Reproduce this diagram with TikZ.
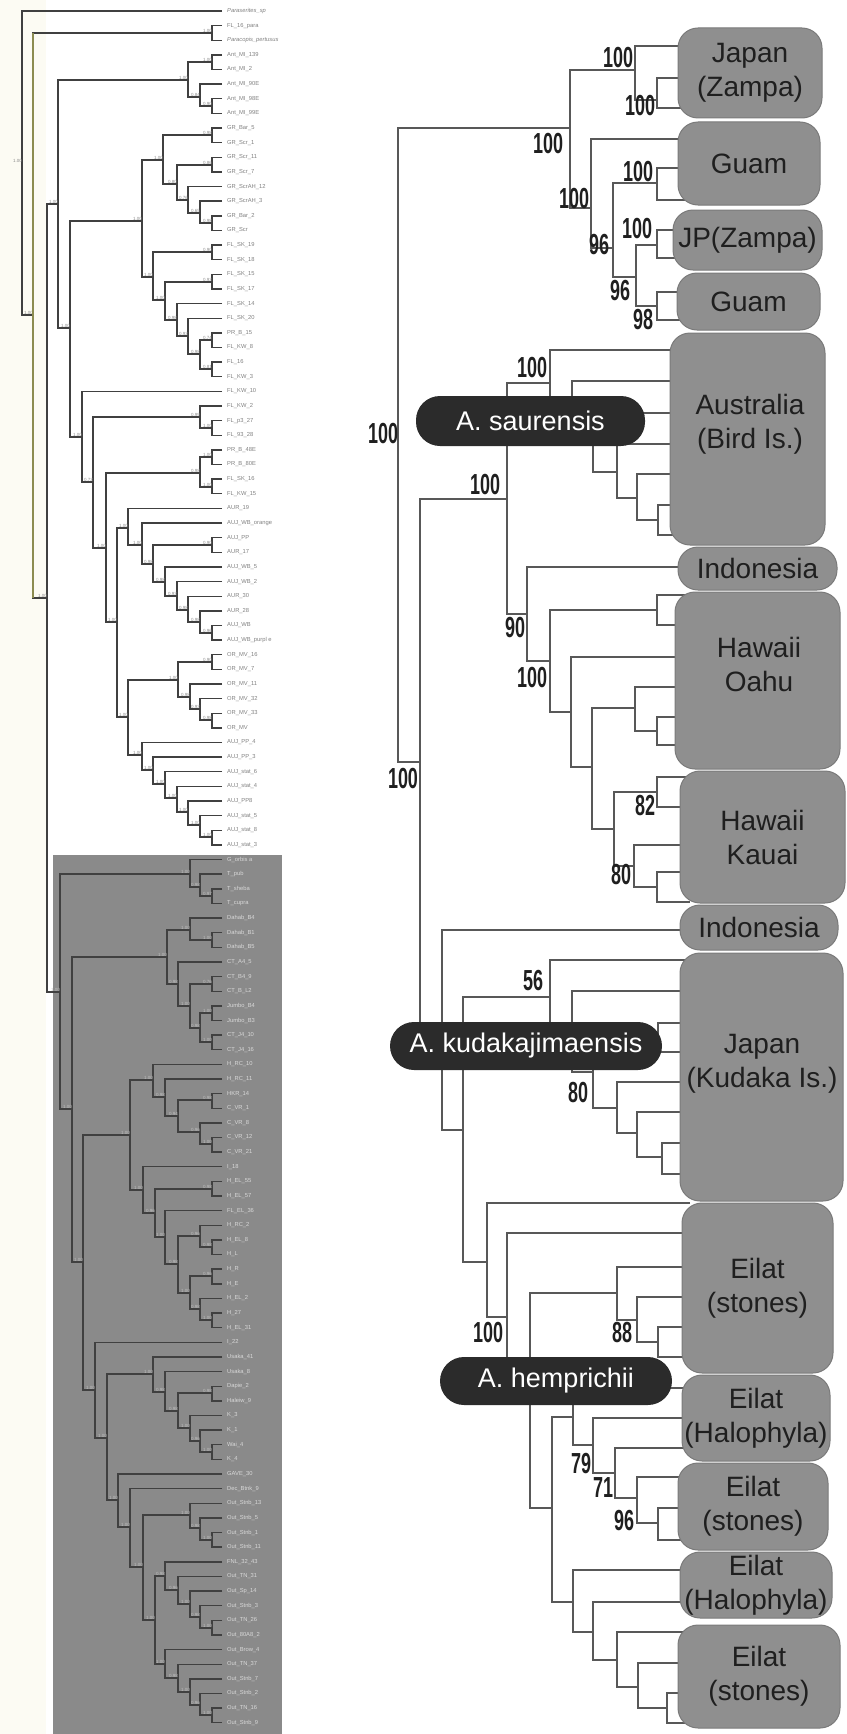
\documentclass[tikz,border=0pt]{standalone}
\usepackage{fontspec}
\setmainfont{Liberation Sans}
\usepackage{graphicx}
\usetikzlibrary{positioning}

\definecolor{regiongray}{RGB}{143,143,143}
\definecolor{regionedge}{RGB}{122,122,122}
\definecolor{taxondark}{RGB}{43,43,43}
\definecolor{branchgray}{RGB}{88,88,88}
\definecolor{cladeshade}{RGB}{138,138,138}
\definecolor{olivebar}{RGB}{140,140,80}
\definecolor{creamstrip}{RGB}{252,251,243}

\newcommand{\bsnum}[1]{\scalebox{0.62}[1]{#1}}

% small tree (left): node/x/y/child/child/support
\newcommand{\lefttop}{r0/22/163/L0/a1/1.00, a1/33/315/b1/a2/1.00, b1/212/33/L1/L2/1.00,
  a2/47/598/a3/s0/1.00, a3/58/204/c1/a4/1.00, c1/188/80/c2/c3/1.00, c2/212/62/L3/L4/1.00,
  c3/200/97/L5/c4/0.84, c4/212/106/L6/L7/0.90, a4/70/328/g0/a5/1.00, g0/142/221/g1/f1/1.00,
  g1/163/160/g2/g3/1.00, g2/212/135/L8/L9/0.98, g3/177/184/g4/g5/0.80, g4/212/165/L10/L11/0.86,
  g5/188/200/L12/g6/0.76, g6/200/213/L13/g7/0.65, g7/212/223/L14/L15/0.98, f1/153/277/f2/f3/1.00,
  f2/212/252/L16/L17/0.90, f3/165/300/f4/f5/1.00, f4/212/282/L18/L19/0.93, f5/177/320/L20/f6/0.98,
  f6/188/336/L21/f7/0.93, f7/200/354/f8/f9/0.98, f8/212/340/L22/L23/0.74, f9/212/369/L24/L25/0.81,
  a5/82/437/L26/a6/1.00, a6/93/482/k1/a7/0.73, k1/200/417/L27/k2/0.99, k2/212/428/L28/L29/1.00,
  a7/106/548/k3/a8/1.00, k3/200/473/k4/k5/0.98, k4/212/457/L30/L31/1.00, k5/212/487/L32/L33/1.00,
  a8/117/622/u1/a9/1.00, u1/128/528/L34/u2/1.00, u2/142/545/L35/u3/1.00, u3/153/564/u4/u5/0.98,
  u4/212/545/L36/L37/0.90, u5/165/582/L38/u6/0.98, u6/177/596/L39/u7/0.93, u7/188/610/L40/u8/0.98,
  u8/200/622/L41/u9/0.98, u9/212/633/L42/L43/0.96, a9/128/717/o1/v1/1.00, o1/178/680/o2/o3/1.00,
  o2/212/662/L44/L45/0.90, o3/190/697/L46/o4/0.98, o4/200/709/L47/o5/0.93, o5/212/720/L48/L49/0.98,
  v1/142/755/L50/v2/1.00, v2/153/770/L51/v3/1.00, v3/165/784/L52/v4/1.00, v4/177/798/L53/v5/1.00,
  v5/188/812/L54/v6/1.00, v6/200/825/L55/v7/1.00, v7/212/837/L56/L57/1.00}
\newcommand{\leftshade}{s0/60/992/s1/s2/1.00, s1/190/874/L58/s3/1.00, s3/200/887/L59/s4/0.98,
  s4/212/896/L60/L61/0.97, s2/72/1109/t1/w0/1.00, t1/167/957/t2/t3/1.00, t2/190/930/L62/t4/1.00,
  t4/212/940/L63/L64/1.00, t3/178/984/L65/t5/0.98, t5/190/1006/t6/t7/1.00, t6/212/984/L66/L67/0.76,
  t7/200/1028/t8/t9/0.98, t8/212/1013/L68/L69/1.00, t9/212/1042/L70/L71/1.00, w0/83/1262/x1/y1/1.00,
  x1/130/1135/x2/x3/1.00, x2/153/1080/L72/x4/1.00, x4/165/1097/L73/x5/0.98, x5/178/1116/x6/x7/0.94,
  x6/212/1100/L74/L75/0.98, x7/200/1132/L76/x8/0.96, x8/212/1144/L77/L78/1.00, x3/143/1190/L79/x9/1.00,
  x9/155/1213/x10/x11/0.96, x10/212/1189/L80/L81/0.98, x11/165/1237/L82/x12/1.00, x12/178/1264/x13/x14/0.98,
  x13/200/1236/L83/x15/0.96, x15/212/1247/L84/L85/0.98, x14/190/1293/x16/x17/1.00, x16/212/1276/L86/L87/0.96,
  x17/200/1309/L88/x18/0.98, x18/212/1320/L89/L90/1.00, y1/95/1390/L91/y2/1.00, y2/107/1438/y3/y4/1.00,
  y3/153/1374/L92/y5/1.00, y5/165/1392/L93/y6/0.98, y6/178/1411/y7/y8/0.98, y7/212/1393/L94/L95/0.98,
  y8/190/1428/L96/y9/1.00, y9/200/1441/L97/y10/0.96, y10/212/1452/L98/L99/1.00, y4/118/1500/L100/z1/1.00,
  z1/130/1527/L101/z2/1.00, z2/143/1567/z3/z4/1.00, z3/190/1515/L102/z5/1.00, z5/200/1528/L103/z6/0.98,
  z6/212/1540/L104/L105/1.00, z4/155/1620/z7/z8/1.00, z7/165/1576/L106/z9/0.98, z9/178/1590/L107/z10/0.96,
  z10/190/1604/L108/z11/1.00, z11/200/1617/L109/z12/0.98, z12/212/1628/L110/L111/1.00, z8/165/1664/L112/z13/1.00,
  z13/178/1678/L113/z14/0.98, z14/190/1692/L114/z15/1.00, z15/200/1705/L115/z16/0.96, z16/212/1715/L116/L117/1.00}
% tip labels
\newcommand{\tipstop}{0/{\itshape Paraserites\_sp}, 1/FL\_16\_para, 2/{\itshape Paracopis\_pertusus}, 3/Ant\_MI\_139,
  4/Ant\_MI\_2, 5/Ant\_MI\_90E, 6/Ant\_MI\_98E, 7/Ant\_MI\_99E, 8/GR\_Bar\_5, 9/GR\_Scr\_1, 10/GR\_Scr\_11,
  11/GR\_Scr\_7, 12/GR\_ScrAH\_12, 13/GR\_ScrAH\_3, 14/GR\_Bar\_2, 15/GR\_Scr, 16/FL\_SK\_19, 17/FL\_SK\_18,
  18/FL\_SK\_15, 19/FL\_SK\_17, 20/FL\_SK\_14, 21/FL\_SK\_20, 22/PR\_B\_15, 23/FL\_KW\_8, 24/FL\_16, 25/FL\_KW\_3,
  26/FL\_KW\_10, 27/FL\_KW\_2, 28/FL\_p3\_27, 29/FL\_93\_28, 30/PR\_B\_48E, 31/PR\_B\_80E, 32/FL\_SK\_16,
  33/FL\_KW\_15, 34/AUR\_19, 35/AUJ\_WB\_orange, 36/AUJ\_PP, 37/AUR\_17, 38/AUJ\_WB\_5, 39/AUJ\_WB\_2,
  40/AUR\_30, 41/AUR\_28, 42/AUJ\_WB, 43/AUJ\_WB\_purpl e, 44/OR\_MV\_16, 45/OR\_MV\_7, 46/OR\_MV\_11,
  47/OR\_MV\_32, 48/OR\_MV\_33, 49/OR\_MV, 50/AUJ\_PP\_4, 51/AUJ\_PP\_3, 52/AUJ\_stat\_6, 53/AUJ\_stat\_4,
  54/AUJ\_PP8, 55/AUJ\_stat\_5, 56/AUJ\_stat\_8, 57/AUJ\_stat\_3}
\newcommand{\tipsshade}{58/G\_orbis a, 59/T\_pub, 60/T\_sheba, 61/T\_cupra, 62/Dahab\_B4, 63/Dahab\_B1,
  64/Dahab\_B5, 65/CT\_A4\_5, 66/CT\_B4\_9, 67/CT\_B\_L2, 68/Jumbo\_B4, 69/Jumbo\_B3, 70/CT\_J4\_10,
  71/CT\_J4\_16, 72/H\_RC\_10, 73/H\_RC\_11, 74/HKR\_14, 75/C\_VR\_1, 76/C\_VR\_8, 77/C\_VR\_12, 78/C\_VR\_21,
  79/I\_18, 80/H\_EL\_55, 81/H\_EL\_57, 82/FL\_EL\_36, 83/H\_RC\_2, 84/H\_EL\_8, 85/H\_L, 86/H\_R, 87/H\_E,
  88/H\_EL\_2, 89/H\_27, 90/H\_EL\_31, 91/I\_22, 92/Usaka\_41, 93/Usaka\_8, 94/Dapie\_2, 95/Haleiw\_9,
  96/K\_3, 97/K\_1, 98/Wai\_4, 99/K\_4, 100/GAVE\_30, 101/Dec\_Btnk\_9, 102/Out\_Stnb\_13, 103/Out\_Stnb\_5,
  104/Out\_Stnb\_1, 105/Out\_Stnb\_11, 106/FNL\_32\_43, 107/Out\_TN\_31, 108/Out\_Sp\_14, 109/Out\_Stnb\_3,
  110/Out\_TN\_26, 111/Out\_80A8\_2, 112/Out\_Brow\_4, 113/Out\_TN\_37, 114/Out\_Stnb\_7, 115/Out\_Stnb\_2,
  116/Out\_TN\_16, 117/Out\_Stnb\_9}
% big tree (right): node/x/y/child/child
\newcommand{\righttree}{R0/398/445/JG/S0, JG/570/128/JZ/GG, JZ/635/70/J1/JZb, JZb/657/100/J2/J3,
  GG/591/208/G1/N96, N96/613/248/GB/N96b, GB/657/183/G2/G3, N96b/636/277/ZP/GC, ZP/657/245/Z1/Z2,
  GC/657/306/G4/G5, S0/420/762/SA/SK, SA/507/499/AB/IH, AB/550/383/A1/AC, AC/572/420/A2/AD,
  AD/593/440/A3/AE, AE/617/472/A4/AF, AF/637/498/A5/AG, AG/658/520/A6/A7, IH/527/614/I1/H0,
  H0/550/661/OA/H1n, OA/657/610/O1/O2, H1n/571/712/O3/H2n, H2n/592/767/OB/KB, OB/635/708/O4/OC,
  OC/657/731/O5/O6, KB/614/829/KA/KC, KA/657/792/K1/K2, KC/634/866/K3/KD, KD/657/887/K4/K5,
  SK/442/1025/I2/SL, SL/463/1130/UA/EB, UA/550/997/U1/UB, UB/572/1031/U2/UC, UC/593/1072/UD/UE,
  UD/658/1037/U3/U4, UE/617/1108/U5/UF, UF/637/1133/U6/UG, UG/662/1157/U7/U8, EB/487/1262/E1/EC,
  EC/507/1317/E2/HA, HA/530/1401/ED/HB, ED/617/1293/E3/EE, EE/637/1320/E4/EF, EF/658/1342/E5/E6,
  HB/552/1508/HC/HD, HC/573/1417/H1/HE, HE/593/1445/H2/HF, HF/615/1473/H3/HG, HG/637/1498/S1/HH,
  HH/658/1523/S2/S3, HD/573/1602/H4/TA, TA/593/1632/H5/TB, TB/617/1660/T1/TC, TC/638/1687/T2/TD,
  TD/667/1708/T3/T4}

\begin{document}
\begin{tikzpicture}[x=1pt, y=-1pt,
    every node/.style={inner sep=0pt},
    branch/.style={draw=branchgray, line width=1.3pt},
    thinbranch/.style={draw=black!75, line width=1.4pt},
    region/.style={draw=regionedge, fill=regiongray, line width=1pt, rounded corners=20pt,
                   align=center, text=black!88, font=\fontsize{28}{34}\selectfont},
    regiontext/.style={align=center, text=black!88, font=\fontsize{28}{34}\selectfont},
    taxon/.style={fill=taxondark, rounded corners=24pt, text=white, font=\fontsize{27}{30}\selectfont},
    bs/.style={text=black!88, font=\fontsize{29}{29}\selectfont\bfseries},
    tiplab/.style={anchor=west, text=black!50, font=\fontsize{5.8}{6.5}\selectfont},
    tiplabsh/.style={tiplab, text=black!15},
    supp/.style={anchor=south east, text=black!45, font=\fontsize{4.5}{5}\selectfont, yshift=0.6pt},
    suppsh/.style={supp, text=black!25},
]
\useasboundingbox (0,0) rectangle (846,1734);
\fill[creamstrip] (0,0) rectangle (46,1734);
\fill[cladeshade] (53,855) rectangle (282,1734);

% ---- small tree ----
\foreach \k in {0,...,117} \coordinate (L\k) at (222,{11+14.63*\k});
\foreach \p/\px/\py/\a/\b/\v in \lefttop {\coordinate (\p) at (\px,\py);}
\foreach \p/\px/\py/\a/\b/\v in \leftshade {\coordinate (\p) at (\px,\py);}
\foreach \p/\px/\py/\a/\b/\v in \lefttop {
  \draw[thinbranch] (\a) -| (\p) |- (\b);
  \node[supp] (bs-\p) at (\p) {\v};
}
\foreach \p/\px/\py/\a/\b/\v in \leftshade {
  \draw[thinbranch] (\a) -| (\p) |- (\b);
  \node[suppsh] (bs-\p) at (\p) {\v};
}
\draw[olivebar, line width=1.4pt] (a1 |- b1) -- (a1 |- a2);
\foreach \k/\t in \tipstop \node[tiplab] (lab\k) at ([xshift=5pt]L\k) {\t};
\foreach \k/\t in \tipsshade \node[tiplabsh] (lab\k) at ([xshift=5pt]L\k) {\t};

% ---- big tree ----
\foreach \n/\py in {J1/46,J2/78,J3/108,G1/139,G2/168,G3/200,Z1/230,Z2/258,G4/292,G5/320,
  A1/350,A2/381,A3/413,A4/444,A5/474,A6/505,A7/535,I1/567,O1/595,O2/625,O3/657,O4/687,
  O5/717,O6/745,K1/777,K2/807,K3/845,K4/872,K5/902,I2/930,U1/960,U2/991,U3/1023,U4/1052,
  U5/1082,U6/1112,U7/1143,U8/1174,E1/1203,E2/1233,E3/1267,E4/1297,E5/1327,E6/1357,
  H1/1388,H2/1418,H3/1448,S1/1477,S2/1508,S3/1540,H4/1570,H5/1602,T1/1632,T2/1663,
  T3/1693,T4/1723}
  \coordinate (\n) at (690,\py);
\foreach \p/\px/\py/\a/\b in \righttree {\coordinate (\p) at (\px,\py);}
\foreach \p/\px/\py/\a/\b in \righttree {\draw[branch] (\a) -| (\p) |- (\b);}

% locality boxes
\node[region, minimum width=144pt, minimum height=90pt]  (jpz)  at (750,73)     {Japan\\(Zampa)};
\node[region, minimum width=142pt, minimum height=83pt]  (gu1)  at (749,163.5)  {Guam};
\node[region, minimum width=149pt, minimum height=60pt]  (jpz2) at (747.5,240)  {JP(Zampa)};
\node[region, minimum width=143pt, minimum height=57pt]  (gu2)  at (748.5,301.5) {Guam};
\node[region, minimum width=155pt, minimum height=212pt] (aus)  at (747.5,439)  {};
\node[regiontext] (aus-t) at (750,424) {Australia\\(Bird Is.)};
\node[region, minimum width=159pt, minimum height=43pt]  (ind1) at (757.5,568.5) {Indonesia};
\node[region, minimum width=165pt, minimum height=177pt] (oahu) at (757.5,680.5) {};
\node[regiontext] (oahu-t) at (759,664) {Hawaii\\Oahu};
\node[region, minimum width=165pt, minimum height=132pt] (kau)  at (762.5,837)  {Hawaii\\Kauai};
\node[region, minimum width=158pt, minimum height=45pt]  (ind2) at (759,927.5)  {Indonesia};
\node[region, minimum width=163pt, minimum height=248pt] (kud)  at (761.5,1077) {};
\node[regiontext] (kud-t) at (762,1064) {Japan\\(Kudaka Is.)};
\node[region, minimum width=151pt, minimum height=170pt] (eis1) at (757.5,1288) {Eilat\\(stones)};
\node[region, minimum width=148pt, minimum height=86pt]  (eih1) at (756,1418)   {Eilat\\(Halophyla)};
\node[region, minimum width=150pt, minimum height=87pt]  (eis2) at (753,1506.5) {Eilat\\(stones)};
\node[region, minimum width=152pt, minimum height=66pt]  (eih2) at (756,1585)   {Eilat\\(Halophyla)};
\node[region, minimum width=162pt, minimum height=103pt] (eis3) at (759,1676.5) {Eilat\\(stones)};

% species labels
\node[taxon, minimum width=229pt, minimum height=50pt] (saur) at (530.5,421) {A. saurensis};
\node[taxon, minimum width=272pt, minimum height=48pt] (kuda) at (526,1046)  {A. kudakajimaensis};
\node[taxon, minimum width=232pt, minimum height=48pt] (hemp) at (556,1381)  {A. hemprichii};

% bootstrap values
\foreach \t/\px/\py [count=\i] in {100/618/58, 100/640/106, 100/548/144, 100/574/199, 100/638/172,
  96/599/245, 100/637/229, 96/620/291, 98/643/320, 100/383/434, 100/532/368, 100/485/485,
  90/515/628, 100/532/678, 100/403/779, 82/645/806, 80/621/875, 56/533/981, 80/578/1093,
  100/488/1333, 88/622/1333, 79/581/1463, 71/603/1488, 96/624/1520}
  \node[bs] (boot\i) at (\px,\py) {\bsnum{\t}};
\end{tikzpicture}
\end{document}
